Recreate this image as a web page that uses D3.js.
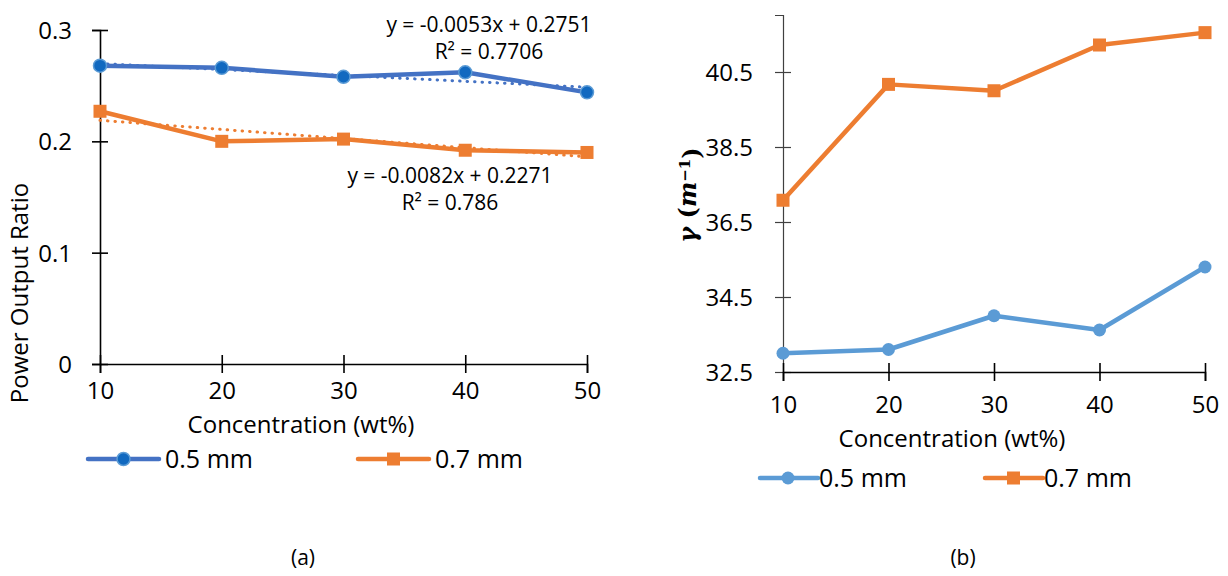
<!DOCTYPE html>
<html>
<head>
<meta charset="utf-8">
<script src="https://cdn.jsdelivr.net/npm/d3@7"></script>
<style>
  body { margin: 0; background: #fff; }
  svg text { font-family: "Open Sans", sans-serif; fill: #000; }
</style>
</head>
<body>
<div id="chart"></div>
<script>
// data
const conc = [10, 20, 30, 40, 50];
const seriesNames = ["0.5 mm", "0.7 mm"];

// (a) power output ratio
const ratio05 = [0.268, 0.266, 0.258, 0.262, 0.244];
const ratio07 = [0.227, 0.200, 0.202, 0.192, 0.190];
const trendSlope = [-0.0053, -0.0082];
const trendIntercept = [0.2751, 0.2271];
const trendText = [["y = -0.0053x + 0.2751", "R² = 0.7706"], ["y = -0.0082x + 0.2271", "R² = 0.786"]];
const ratioTicks = [0, 0.1, 0.2, 0.3];

// (b) gamma
const gamma05 = [33.0, 33.1, 34.0, 33.62, 35.3];
const gamma07 = [37.08, 40.17, 40.0, 41.22, 41.55];
const gammaTicks = [32.5, 34.5, 36.5, 38.5, 40.5];

const width = 1228, height = 576;
const svg = d3.select("#chart").append("svg")
    .attr("width", width)
    .attr("height", height);

const orange = "#ED7D31";

// helper for crossing ticks
function crossTicksY(g, len) {
    g.selectAll(".tick line").attr("x1", -len).attr("x2", len);
}
function crossTicksX(g, len) {
    g.selectAll(".tick line").attr("y1", -len).attr("y2", len);
}

// ---------- chart (a) ----------
const xA = d3.scaleLinear().domain([10, 50]).range([100, 587]);
const yA = d3.scaleLinear().domain([0, 0.3]).range([364, 30]);
const gA = svg.append("g");

const yAxisA = gA.append("g")
    .attr("transform", `translate(${xA(10)},0)`)
    .call(d3.axisLeft(yA).tickValues(ratioTicks).tickSize(8).tickFormat(d => d === 0 ? "0" : d3.format(".1f")(d)));
crossTicksY(yAxisA, 8);
yAxisA.selectAll("text").attr("x", -28).attr("dy", "0.35em").style("font-size", "24px");

const xAxisA = gA.append("g")
    .attr("transform", `translate(0,${yA(0)})`)
    .call(d3.axisBottom(xA).tickValues(conc).tickSize(9));
crossTicksX(xAxisA, 9);
xAxisA.selectAll("text").attr("y", 27).attr("dy", "0.35em").style("font-size", "24px");
gA.selectAll(".domain, .tick line").attr("stroke", "#000").attr("stroke-width", 1.6);

gA.append("text")
    .attr("transform", `translate(20,293) rotate(-90)`)
    .attr("text-anchor", "middle")
    .attr("dy", "0.35em")
    .style("font-size", "24px")
    .text("Power Output Ratio");

gA.append("text")
    .attr("x", 301).attr("y", 425)
    .attr("text-anchor", "middle")
    .attr("dy", "0.35em")
    .style("font-size", "24px")
    .text("Concentration (wt%)");

const lineA = d3.line().x((d, i) => xA(conc[i])).y(d => yA(d));
const colorsA = ["#4472C4", orange];
[ratio05, ratio07].forEach((vals, s) => {
    gA.append("path")
        .datum(vals)
        .attr("d", lineA)
        .attr("fill", "none")
        .attr("stroke", colorsA[s])
        .attr("stroke-width", 4.5)
        .attr("stroke-linejoin", "round");
});

// linear trendlines (x = point index 1..5)
[0, 1].forEach(s => {
    gA.append("line")
        .attr("x1", xA(conc[0])).attr("y1", yA(trendSlope[s] * 1 + trendIntercept[s]))
        .attr("x2", xA(conc[4])).attr("y2", yA(trendSlope[s] * 5 + trendIntercept[s]))
        .attr("stroke", colorsA[s])
        .attr("stroke-width", 3)
        .attr("stroke-linecap", "round")
        .attr("stroke-dasharray", "0.5 7");
});

gA.selectAll(".dotA")
    .data(ratio05)
    .enter().append("circle")
    .attr("cx", (d, i) => xA(conc[i]))
    .attr("cy", d => yA(d))
    .attr("r", 6.5)
    .attr("fill", "#1169C0")
    .attr("stroke", "#5B9BD5")
    .attr("stroke-width", 1.5);

gA.selectAll(".sqA")
    .data(ratio07)
    .enter().append("rect")
    .attr("x", (d, i) => xA(conc[i]) - 6.5)
    .attr("y", d => yA(d) - 6.5)
    .attr("width", 13).attr("height", 13)
    .attr("fill", orange);

// equation labels
const eqPos = [[489, 25], [450, 176]];
trendText.forEach((lines, s) => {
    lines.forEach((t, k) => {
        gA.append("text")
            .attr("x", eqPos[s][0])
            .attr("y", eqPos[s][1] + k * 27)
            .attr("text-anchor", "middle")
            .attr("dy", "0.35em")
            .style("font-size", "21px")
            .text(t);
    });
});

// legend (a)
const legA = [{x: 88, name: seriesNames[0]}, {x: 358, name: seriesNames[1]}];
legA.forEach((l, s) => {
    const g = gA.append("g").attr("transform", `translate(${l.x},459)`);
    g.append("line").attr("x1", 0).attr("x2", 71)
        .attr("stroke", colorsA[s]).attr("stroke-width", 4.5).attr("stroke-linecap", "round");
    if (s === 0) {
        g.append("circle").attr("cx", 35.5).attr("r", 6.5)
            .attr("fill", "#1169C0").attr("stroke", "#5B9BD5").attr("stroke-width", 1.5);
    } else {
        g.append("rect").attr("x", 29).attr("y", -6.5).attr("width", 13).attr("height", 13).attr("fill", orange);
    }
    g.append("text").attr("x", 77).attr("dy", "0.35em").style("font-size", "25px").text(l.name);
});

// ---------- chart (b) ----------
const xB = d3.scaleLinear().domain([10, 50]).range([783, 1205]);
const yB = d3.scaleLinear().domain([32.5, 42.02]).range([372, 15]);
const gB = svg.append("g");

const yAxisB = gB.append("g")
    .attr("transform", `translate(${xB(10)},0)`)
    .call(d3.axisLeft(yB).tickValues(gammaTicks).tickSize(8).tickFormat(d3.format(".1f")));
crossTicksY(yAxisB, 8);
yAxisB.selectAll("text").attr("x", -30).attr("dy", "0.35em").style("font-size", "24px");
yAxisB.selectAll(".domain, .tick line").attr("stroke", "#404040").attr("stroke-width", 1.2);

const xAxisB = gB.append("g")
    .attr("transform", `translate(0,${yB(32.5)})`)
    .call(d3.axisBottom(xB).tickValues(conc).tickSize(9));
crossTicksX(xAxisB, 9);
xAxisB.selectAll("text").attr("y", 33).attr("dy", "0.35em").style("font-size", "24px");
xAxisB.selectAll(".domain, .tick line").attr("stroke", "#000").attr("stroke-width", 1.6);

const yLab = gB.append("text")
    .attr("transform", `translate(688,195) rotate(-90)`)
    .attr("text-anchor", "middle")
    .attr("dy", "0.35em")
    .style("font-family", "'DejaVu Serif', serif")
    .style("font-size", "24px")
    .style("font-weight", "bold");
yLab.append("tspan").style("font-style", "italic").text("γ");
yLab.append("tspan").text(" (");
yLab.append("tspan").style("font-style", "italic").text("m");
yLab.append("tspan").attr("dy", "-0.45em").style("font-size", "15px").text("−1");
yLab.append("tspan").attr("dy", "0.45em").text(")");

gB.append("text")
    .attr("x", 952).attr("y", 439)
    .attr("text-anchor", "middle")
    .attr("dy", "0.35em")
    .style("font-size", "24px")
    .text("Concentration (wt%)");

const lineB = d3.line().x((d, i) => xB(conc[i])).y(d => yB(d));
const colorsB = ["#5B9BD5", orange];
[gamma05, gamma07].forEach((vals, s) => {
    gB.append("path")
        .datum(vals)
        .attr("d", lineB)
        .attr("fill", "none")
        .attr("stroke", colorsB[s])
        .attr("stroke-width", 4.5)
        .attr("stroke-linejoin", "round");
});

gB.selectAll(".dotB")
    .data(gamma05)
    .enter().append("circle")
    .attr("cx", (d, i) => xB(conc[i]))
    .attr("cy", d => yB(d))
    .attr("r", 6.5)
    .attr("fill", colorsB[0]);

gB.selectAll(".sqB")
    .data(gamma07)
    .enter().append("rect")
    .attr("x", (d, i) => xB(conc[i]) - 6.5)
    .attr("y", d => yB(d) - 6.5)
    .attr("width", 13).attr("height", 13)
    .attr("fill", orange);

// legend (b)
const legB = [{x: 760, name: seriesNames[0]}, {x: 985, name: seriesNames[1]}];
legB.forEach((l, s) => {
    const g = gB.append("g").attr("transform", `translate(${l.x},478)`);
    g.append("line").attr("x1", 0).attr("x2", 58)
        .attr("stroke", colorsB[s]).attr("stroke-width", 4.5).attr("stroke-linecap", "round");
    if (s === 0) {
        g.append("circle").attr("cx", 28).attr("r", 6.5).attr("fill", colorsB[0]);
    } else {
        g.append("rect").attr("x", 22).attr("y", -6.5).attr("width", 13).attr("height", 13).attr("fill", orange);
    }
    g.append("text").attr("x", 59).attr("dy", "0.35em").style("font-size", "25px").text(l.name);
});

// captions
[["(a)", 303], ["(b)", 963]].forEach(c => {
    svg.append("text")
        .attr("x", c[1]).attr("y", 558)
        .attr("text-anchor", "middle")
        .attr("dy", "0.35em")
        .style("font-size", "21px")
        .text(c[0]);
});
</script>
</body>
</html>
